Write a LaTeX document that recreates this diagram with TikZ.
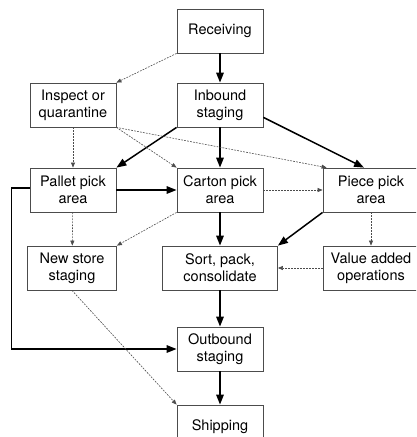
\documentclass[tikz,border=0pt]{standalone}
\usepackage{fontspec}
\setmainfont{TeX Gyre Heros}
\usetikzlibrary{positioning,calc,arrows.meta}
\newcommand*{\lbl}[1]{\fontsize{14.5}{17}\selectfont #1}

\begin{document}
\begin{tikzpicture}[x=1pt,y=-1pt,
    box/.style={draw=black!70,line width=0.8pt,align=center,inner sep=0pt,
                minimum width=86pt,minimum height=44pt,font=\fontsize{14.5}{17}\selectfont},
    flow/.style={line width=1.5pt,-{Triangle[length=10pt,width=7.5pt]}},
    aux/.style={line width=0.6pt,black!70,dash pattern=on 1.8pt off 1.2pt,
                -{Triangle[length=5pt,width=4pt]}}]
% Page frame
\clip (0,0) rectangle (416,437);
% Boxes, row by row
\node[box] (recv) at (220,31) {Receiving};
\node[box] (insp) at (73,105) {Inspect or\\quarantine};
\node[box] (inb) at (220,105) {Inbound\\staging};
\node[box] (pallet) at (73,190) {Pallet pick\\area};
\node[box] (carton) at (220,190) {Carton pick\\area};
\node[box,minimum width=96pt] (piece) at (371,190) {Piece pick\\area};
\node[box,minimum width=89pt] (newst) at (72,268) {New store\\staging};
\node[box,minimum width=115pt] (sort) at (220,268) {Sort, pack,\\consolidate};
\node[box,minimum width=96pt] (value) at (371,268) {Value added\\operations};
\node[box] (outb) at (220,349) {Outbound\\staging};
\node[box] (ship) at (220,427) {Shipping};
% Main flow
\draw[flow] (recv) -- (inb);
\draw[flow] (inb.south west) -- (pallet.north east);
\draw[flow] (inb) -- (carton);
\draw[flow] ([yshift=10pt]inb.south east) -- ([xshift=-7pt]piece.north);
\draw[flow] (pallet) -- (carton);
\draw[flow] (carton) -- (sort);
\draw[flow] (piece.south west) -- (sort.north east);
\draw[flow] (sort) -- (outb);
\draw[flow] (outb) -- (ship);
\draw[flow] ([yshift=2pt]pallet.west) -- ++(-18,0) |- (outb.west);
% Side flow, dotted
\draw[aux] (recv.south west) -- (insp.north east);
\draw[aux] (insp) -- (pallet);
\draw[aux] (insp.south east) -- (carton.north west);
\draw[aux] (insp.south east) -- ([xshift=4pt]piece.north west);
\draw[aux] (carton) -- (piece);
\draw[aux] (pallet) -- (newst);
\draw[aux] (carton.south west) -- (newst.north east);
\draw[aux] (piece) -- (value);
\draw[aux] (value) -- (sort);
\draw[aux] (newst.south) -- (ship.north west);
\end{tikzpicture}
\end{document}
